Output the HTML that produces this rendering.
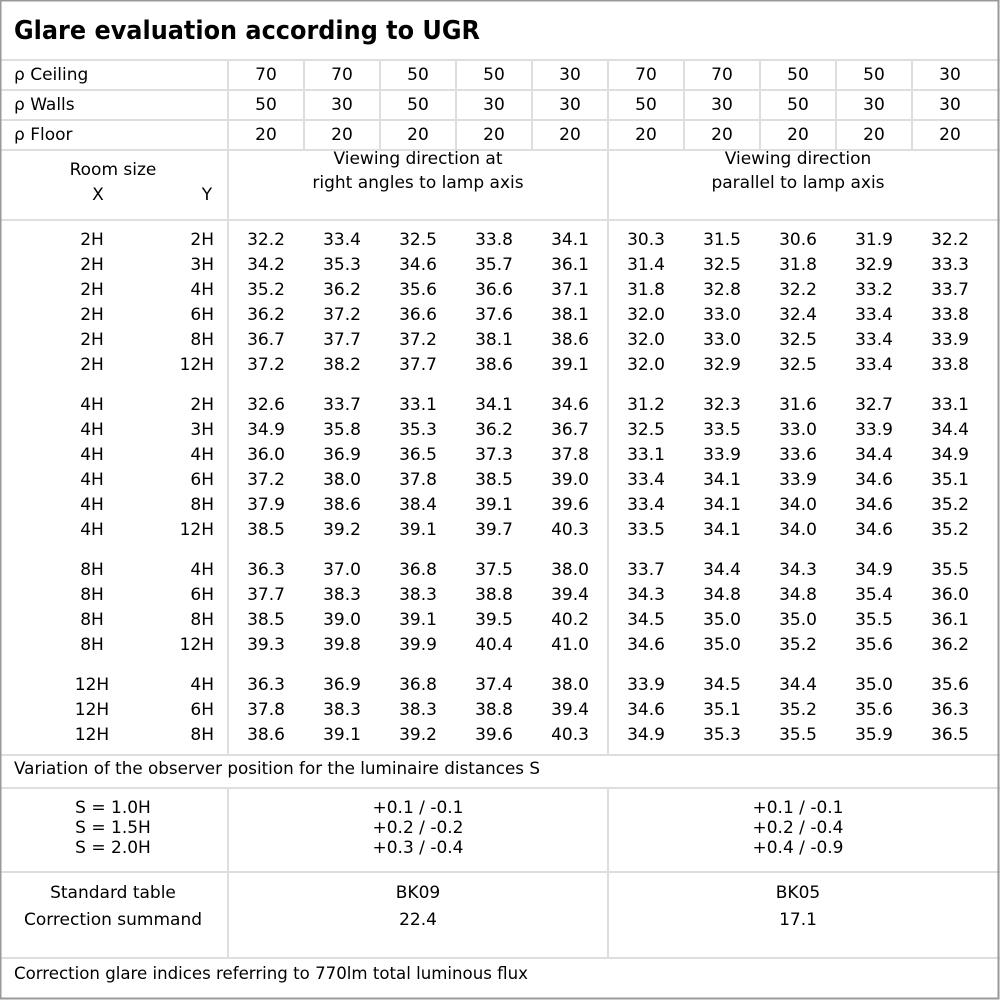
<!DOCTYPE html>
<html><head><meta charset="utf-8"><style>
html,body{margin:0;padding:0;background:#fff}
svg{display:block}
text{font-family:"DejaVu Sans","Liberation Sans",sans-serif;font-size:17px;fill:#000}
.c{text-anchor:middle}
.r{text-anchor:end}
</style></head><body>
<svg width="1000" height="1000" viewBox="0 0 1000 1000" xmlns="http://www.w3.org/2000/svg">
<rect x="0" y="0" width="1000" height="1000" fill="#fff"/>
<g stroke="#dedede" stroke-width="2">
<line x1="0" y1="60" x2="1000" y2="60"/>
<line x1="0" y1="90" x2="1000" y2="90"/>
<line x1="0" y1="120" x2="1000" y2="120"/>
<line x1="0" y1="150" x2="1000" y2="150"/>
<line x1="0" y1="220" x2="1000" y2="220"/>
<line x1="0" y1="755" x2="1000" y2="755"/>
<line x1="0" y1="788" x2="1000" y2="788"/>
<line x1="0" y1="872" x2="1000" y2="872"/>
<line x1="0" y1="958" x2="1000" y2="958"/>
<line x1="228" y1="60" x2="228" y2="755"/>
<line x1="228" y1="788" x2="228" y2="958"/>
<line x1="608" y1="60" x2="608" y2="755"/>
<line x1="608" y1="788" x2="608" y2="958"/>
<line x1="304" y1="60" x2="304" y2="150"/>
<line x1="380" y1="60" x2="380" y2="150"/>
<line x1="456" y1="60" x2="456" y2="150"/>
<line x1="532" y1="60" x2="532" y2="150"/>
<line x1="684" y1="60" x2="684" y2="150"/>
<line x1="760" y1="60" x2="760" y2="150"/>
<line x1="836" y1="60" x2="836" y2="150"/>
<line x1="912" y1="60" x2="912" y2="150"/>
</g>
<rect x="0.5" y="0.5" width="998" height="998" fill="none" stroke="#999" stroke-width="2"/>
<text x="14" y="39" style="font-weight:bold;font-size:26px" textLength="466" lengthAdjust="spacingAndGlyphs">Glare evaluation according to UGR</text>

<text x="14" y="80">ρ Ceiling</text>
<text x="14" y="110">ρ Walls</text>
<text x="14" y="140">ρ Floor</text>
<g class="c">
<text class="c" x="266" y="80">70</text><text class="c" x="342" y="80">70</text><text class="c" x="418" y="80">50</text><text class="c" x="494" y="80">50</text><text class="c" x="570" y="80">30</text><text class="c" x="646" y="80">70</text><text class="c" x="722" y="80">70</text><text class="c" x="798" y="80">50</text><text class="c" x="874" y="80">50</text><text class="c" x="950" y="80">30</text>
<text class="c" x="266" y="110">50</text><text class="c" x="342" y="110">30</text><text class="c" x="418" y="110">50</text><text class="c" x="494" y="110">30</text><text class="c" x="570" y="110">30</text><text class="c" x="646" y="110">50</text><text class="c" x="722" y="110">30</text><text class="c" x="798" y="110">50</text><text class="c" x="874" y="110">30</text><text class="c" x="950" y="110">30</text>
<text class="c" x="266" y="140">20</text><text class="c" x="342" y="140">20</text><text class="c" x="418" y="140">20</text><text class="c" x="494" y="140">20</text><text class="c" x="570" y="140">20</text><text class="c" x="646" y="140">20</text><text class="c" x="722" y="140">20</text><text class="c" x="798" y="140">20</text><text class="c" x="874" y="140">20</text><text class="c" x="950" y="140">20</text>
</g>
<text class="c" x="113" y="175">Room size</text>
<text class="c" x="98" y="200">X</text>
<text class="c" x="207" y="200">Y</text>
<text class="c" x="418" y="164">Viewing direction at</text>
<text class="c" x="418" y="188">right angles to lamp axis</text>
<text class="c" x="798" y="164">Viewing direction</text>
<text class="c" x="798" y="188">parallel to lamp axis</text>

<g id="d">
<text class="c" x="92" y="245">2H</text><text class="r" x="214" y="245">2H</text>
<text class="c" x="266" y="245">32.2</text><text class="c" x="342" y="245">33.4</text><text class="c" x="418" y="245">32.5</text><text class="c" x="494" y="245">33.8</text><text class="c" x="570" y="245">34.1</text><text class="c" x="646" y="245">30.3</text><text class="c" x="722" y="245">31.5</text><text class="c" x="798" y="245">30.6</text><text class="c" x="874" y="245">31.9</text><text class="c" x="950" y="245">32.2</text>
<text class="c" x="92" y="270">2H</text><text class="r" x="214" y="270">3H</text>
<text class="c" x="266" y="270">34.2</text><text class="c" x="342" y="270">35.3</text><text class="c" x="418" y="270">34.6</text><text class="c" x="494" y="270">35.7</text><text class="c" x="570" y="270">36.1</text><text class="c" x="646" y="270">31.4</text><text class="c" x="722" y="270">32.5</text><text class="c" x="798" y="270">31.8</text><text class="c" x="874" y="270">32.9</text><text class="c" x="950" y="270">33.3</text>
<text class="c" x="92" y="295">2H</text><text class="r" x="214" y="295">4H</text>
<text class="c" x="266" y="295">35.2</text><text class="c" x="342" y="295">36.2</text><text class="c" x="418" y="295">35.6</text><text class="c" x="494" y="295">36.6</text><text class="c" x="570" y="295">37.1</text><text class="c" x="646" y="295">31.8</text><text class="c" x="722" y="295">32.8</text><text class="c" x="798" y="295">32.2</text><text class="c" x="874" y="295">33.2</text><text class="c" x="950" y="295">33.7</text>
<text class="c" x="92" y="320">2H</text><text class="r" x="214" y="320">6H</text>
<text class="c" x="266" y="320">36.2</text><text class="c" x="342" y="320">37.2</text><text class="c" x="418" y="320">36.6</text><text class="c" x="494" y="320">37.6</text><text class="c" x="570" y="320">38.1</text><text class="c" x="646" y="320">32.0</text><text class="c" x="722" y="320">33.0</text><text class="c" x="798" y="320">32.4</text><text class="c" x="874" y="320">33.4</text><text class="c" x="950" y="320">33.8</text>
<text class="c" x="92" y="345">2H</text><text class="r" x="214" y="345">8H</text>
<text class="c" x="266" y="345">36.7</text><text class="c" x="342" y="345">37.7</text><text class="c" x="418" y="345">37.2</text><text class="c" x="494" y="345">38.1</text><text class="c" x="570" y="345">38.6</text><text class="c" x="646" y="345">32.0</text><text class="c" x="722" y="345">33.0</text><text class="c" x="798" y="345">32.5</text><text class="c" x="874" y="345">33.4</text><text class="c" x="950" y="345">33.9</text>
<text class="c" x="92" y="370">2H</text><text class="r" x="214" y="370">12H</text>
<text class="c" x="266" y="370">37.2</text><text class="c" x="342" y="370">38.2</text><text class="c" x="418" y="370">37.7</text><text class="c" x="494" y="370">38.6</text><text class="c" x="570" y="370">39.1</text><text class="c" x="646" y="370">32.0</text><text class="c" x="722" y="370">32.9</text><text class="c" x="798" y="370">32.5</text><text class="c" x="874" y="370">33.4</text><text class="c" x="950" y="370">33.8</text>

<text class="c" x="92" y="410">4H</text><text class="r" x="214" y="410">2H</text>
<text class="c" x="266" y="410">32.6</text><text class="c" x="342" y="410">33.7</text><text class="c" x="418" y="410">33.1</text><text class="c" x="494" y="410">34.1</text><text class="c" x="570" y="410">34.6</text><text class="c" x="646" y="410">31.2</text><text class="c" x="722" y="410">32.3</text><text class="c" x="798" y="410">31.6</text><text class="c" x="874" y="410">32.7</text><text class="c" x="950" y="410">33.1</text>
<text class="c" x="92" y="435">4H</text><text class="r" x="214" y="435">3H</text>
<text class="c" x="266" y="435">34.9</text><text class="c" x="342" y="435">35.8</text><text class="c" x="418" y="435">35.3</text><text class="c" x="494" y="435">36.2</text><text class="c" x="570" y="435">36.7</text><text class="c" x="646" y="435">32.5</text><text class="c" x="722" y="435">33.5</text><text class="c" x="798" y="435">33.0</text><text class="c" x="874" y="435">33.9</text><text class="c" x="950" y="435">34.4</text>
<text class="c" x="92" y="460">4H</text><text class="r" x="214" y="460">4H</text>
<text class="c" x="266" y="460">36.0</text><text class="c" x="342" y="460">36.9</text><text class="c" x="418" y="460">36.5</text><text class="c" x="494" y="460">37.3</text><text class="c" x="570" y="460">37.8</text><text class="c" x="646" y="460">33.1</text><text class="c" x="722" y="460">33.9</text><text class="c" x="798" y="460">33.6</text><text class="c" x="874" y="460">34.4</text><text class="c" x="950" y="460">34.9</text>
<text class="c" x="92" y="485">4H</text><text class="r" x="214" y="485">6H</text>
<text class="c" x="266" y="485">37.2</text><text class="c" x="342" y="485">38.0</text><text class="c" x="418" y="485">37.8</text><text class="c" x="494" y="485">38.5</text><text class="c" x="570" y="485">39.0</text><text class="c" x="646" y="485">33.4</text><text class="c" x="722" y="485">34.1</text><text class="c" x="798" y="485">33.9</text><text class="c" x="874" y="485">34.6</text><text class="c" x="950" y="485">35.1</text>
<text class="c" x="92" y="510">4H</text><text class="r" x="214" y="510">8H</text>
<text class="c" x="266" y="510">37.9</text><text class="c" x="342" y="510">38.6</text><text class="c" x="418" y="510">38.4</text><text class="c" x="494" y="510">39.1</text><text class="c" x="570" y="510">39.6</text><text class="c" x="646" y="510">33.4</text><text class="c" x="722" y="510">34.1</text><text class="c" x="798" y="510">34.0</text><text class="c" x="874" y="510">34.6</text><text class="c" x="950" y="510">35.2</text>
<text class="c" x="92" y="535">4H</text><text class="r" x="214" y="535">12H</text>
<text class="c" x="266" y="535">38.5</text><text class="c" x="342" y="535">39.2</text><text class="c" x="418" y="535">39.1</text><text class="c" x="494" y="535">39.7</text><text class="c" x="570" y="535">40.3</text><text class="c" x="646" y="535">33.5</text><text class="c" x="722" y="535">34.1</text><text class="c" x="798" y="535">34.0</text><text class="c" x="874" y="535">34.6</text><text class="c" x="950" y="535">35.2</text>

<text class="c" x="92" y="575">8H</text><text class="r" x="214" y="575">4H</text>
<text class="c" x="266" y="575">36.3</text><text class="c" x="342" y="575">37.0</text><text class="c" x="418" y="575">36.8</text><text class="c" x="494" y="575">37.5</text><text class="c" x="570" y="575">38.0</text><text class="c" x="646" y="575">33.7</text><text class="c" x="722" y="575">34.4</text><text class="c" x="798" y="575">34.3</text><text class="c" x="874" y="575">34.9</text><text class="c" x="950" y="575">35.5</text>
<text class="c" x="92" y="600">8H</text><text class="r" x="214" y="600">6H</text>
<text class="c" x="266" y="600">37.7</text><text class="c" x="342" y="600">38.3</text><text class="c" x="418" y="600">38.3</text><text class="c" x="494" y="600">38.8</text><text class="c" x="570" y="600">39.4</text><text class="c" x="646" y="600">34.3</text><text class="c" x="722" y="600">34.8</text><text class="c" x="798" y="600">34.8</text><text class="c" x="874" y="600">35.4</text><text class="c" x="950" y="600">36.0</text>
<text class="c" x="92" y="625">8H</text><text class="r" x="214" y="625">8H</text>
<text class="c" x="266" y="625">38.5</text><text class="c" x="342" y="625">39.0</text><text class="c" x="418" y="625">39.1</text><text class="c" x="494" y="625">39.5</text><text class="c" x="570" y="625">40.2</text><text class="c" x="646" y="625">34.5</text><text class="c" x="722" y="625">35.0</text><text class="c" x="798" y="625">35.0</text><text class="c" x="874" y="625">35.5</text><text class="c" x="950" y="625">36.1</text>
<text class="c" x="92" y="650">8H</text><text class="r" x="214" y="650">12H</text>
<text class="c" x="266" y="650">39.3</text><text class="c" x="342" y="650">39.8</text><text class="c" x="418" y="650">39.9</text><text class="c" x="494" y="650">40.4</text><text class="c" x="570" y="650">41.0</text><text class="c" x="646" y="650">34.6</text><text class="c" x="722" y="650">35.0</text><text class="c" x="798" y="650">35.2</text><text class="c" x="874" y="650">35.6</text><text class="c" x="950" y="650">36.2</text>

<text class="c" x="92" y="690">12H</text><text class="r" x="214" y="690">4H</text>
<text class="c" x="266" y="690">36.3</text><text class="c" x="342" y="690">36.9</text><text class="c" x="418" y="690">36.8</text><text class="c" x="494" y="690">37.4</text><text class="c" x="570" y="690">38.0</text><text class="c" x="646" y="690">33.9</text><text class="c" x="722" y="690">34.5</text><text class="c" x="798" y="690">34.4</text><text class="c" x="874" y="690">35.0</text><text class="c" x="950" y="690">35.6</text>
<text class="c" x="92" y="715">12H</text><text class="r" x="214" y="715">6H</text>
<text class="c" x="266" y="715">37.8</text><text class="c" x="342" y="715">38.3</text><text class="c" x="418" y="715">38.3</text><text class="c" x="494" y="715">38.8</text><text class="c" x="570" y="715">39.4</text><text class="c" x="646" y="715">34.6</text><text class="c" x="722" y="715">35.1</text><text class="c" x="798" y="715">35.2</text><text class="c" x="874" y="715">35.6</text><text class="c" x="950" y="715">36.3</text>
<text class="c" x="92" y="740">12H</text><text class="r" x="214" y="740">8H</text>
<text class="c" x="266" y="740">38.6</text><text class="c" x="342" y="740">39.1</text><text class="c" x="418" y="740">39.2</text><text class="c" x="494" y="740">39.6</text><text class="c" x="570" y="740">40.3</text><text class="c" x="646" y="740">34.9</text><text class="c" x="722" y="740">35.3</text><text class="c" x="798" y="740">35.5</text><text class="c" x="874" y="740">35.9</text><text class="c" x="950" y="740">36.5</text>
</g>

<text x="14" y="774" textLength="526" lengthAdjust="spacingAndGlyphs">Variation of the observer position for the luminaire distances S</text>
<text class="c" x="113" y="813">S = 1.0H</text>
<text class="c" x="113" y="833">S = 1.5H</text>
<text class="c" x="113" y="853">S = 2.0H</text>
<text class="c" x="418" y="813">+0.1 / -0.1</text>
<text class="c" x="418" y="833">+0.2 / -0.2</text>
<text class="c" x="418" y="853">+0.3 / -0.4</text>
<text class="c" x="798" y="813">+0.1 / -0.1</text>
<text class="c" x="798" y="833">+0.2 / -0.4</text>
<text class="c" x="798" y="853">+0.4 / -0.9</text>
<text class="c" x="113" y="898">Standard table</text>
<text class="c" x="113" y="925">Correction summand</text>
<text class="c" x="418" y="898">BK09</text>
<text class="c" x="418" y="925">22.4</text>
<text class="c" x="798" y="898">BK05</text>
<text class="c" x="798" y="925">17.1</text>
<text x="14" y="979" textLength="514" lengthAdjust="spacingAndGlyphs">Correction glare indices referring to 770lm total luminous flux</text>
</svg>
</body></html>
